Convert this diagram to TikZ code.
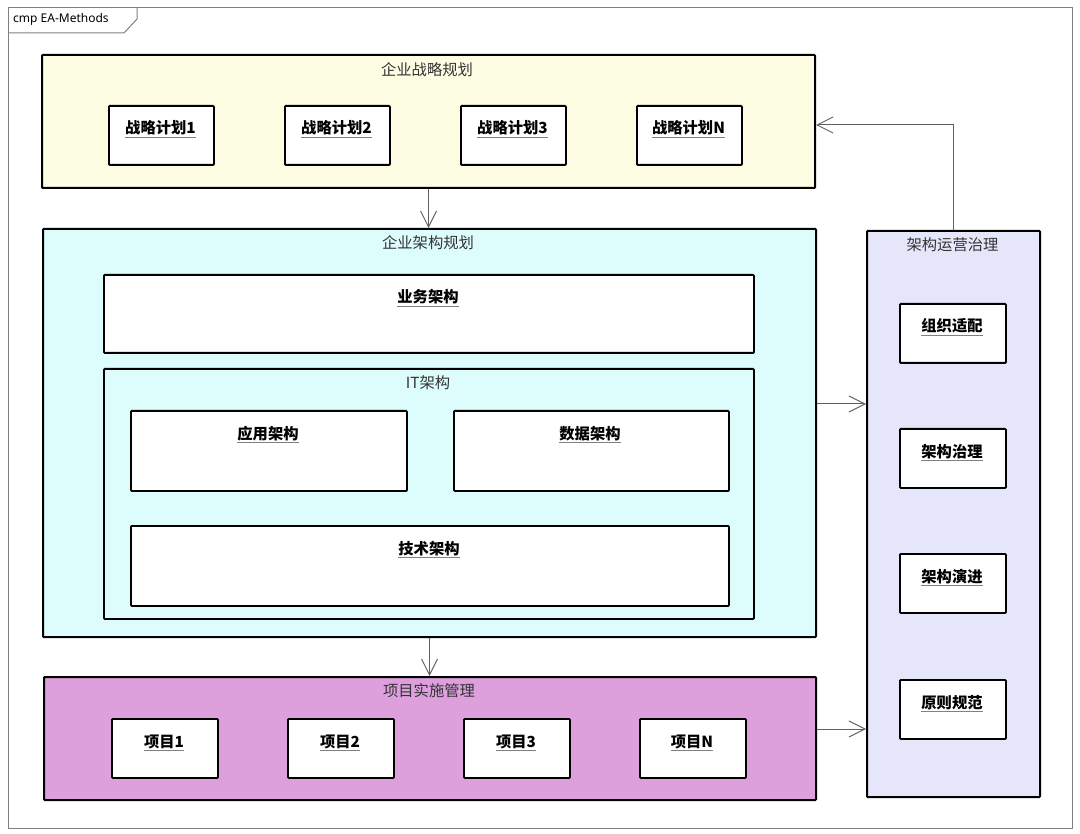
\documentclass[tikz,border=0pt]{standalone}
\usepackage{fontspec}
\setmainfont{Noto Sans CJK SC}
\newfontfamily\tabfont{Noto Sans}
\usetikzlibrary{arrows.meta}
\definecolor{fyellow}{HTML}{FDFDE3}
\definecolor{fcyan}{HTML}{DDFCFC}
\definecolor{fplum}{HTML}{DDA0DD}
\definecolor{flav}{HTML}{E6E6FA}
\definecolor{conncol}{HTML}{606060}
\definecolor{titlecol}{HTML}{333333}
\tikzset{
  container/.style={draw=black,line width=2pt,anchor=north west,inner sep=0pt,rounded corners=0.8pt},
  inbox/.style={draw=black,fill=white,line width=1.8pt,anchor=north west,inner sep=0pt,rounded corners=0.8pt},
  ttl/.style={font=\fontsize{15.3}{17}\selectfont,text=titlecol,inner sep=0pt},
  lbl/.style={font=\fontsize{15.3}{17}\selectfont\bfseries,text=black,inner sep=0pt},
  ul/.style={draw=gray,line width=1pt},
  conn/.style={draw=conncol,line width=1pt,-{Straight Barb[length=16pt,width=16pt,line width=1pt]}},
}
\newcommand{\boxlbl}[3]{% name, position, text
  \node[lbl,anchor=base] (#1) at #2 {#3};
  \draw[ul] ([yshift=-3.5pt]#1.base west) -- ([yshift=-3.5pt]#1.base east);
}
\begin{document}
\begin{tikzpicture}[x=1pt,y=-1pt]
\useasboundingbox (0,0) rectangle (1080,834);
% frame
\draw[draw=gray,line width=1pt] (8,8) rectangle (1072,828);
\draw[draw=gray,line width=1pt] (8,33) -- (124,33) -- (137,19) -- (137,8);
\node[anchor=west,inner sep=0pt,font=\tabfont\fontsize{12}{13}\selectfont,text=black] (tab) at (13,19.5) {cmp EA-Methods};

% strategy
\node[container,fill=fyellow,minimum width=773pt,minimum height=133pt] (strat) at (41,54) {};
\node[ttl] (stratt) at (427,70) {企业战略规划};
\foreach \i/\x/\t in {1/108/战略计划1,2/284/战略计划2,3/460/战略计划3,4/636/战略计划N}{
  \node[inbox,minimum width=105pt,minimum height=59pt] (sp\i) at (\x,105) {};
  \boxlbl{spl\i}{(\x+52.5,134)}{\t}
}

% enterprise architecture
\node[container,fill=fcyan,minimum width=773pt,minimum height=408pt] (ea) at (42,228) {};
\node[ttl] (eat) at (428,243) {企业架构规划};
\node[inbox,minimum width=650pt,minimum height=78pt] (biz) at (103,274) {};
\boxlbl{bizl}{(428,303)}{业务架构}
\node[container,fill=fcyan,line width=1.8pt,minimum width=650pt,minimum height=250pt] (it) at (103,368) {};
\node[ttl] (itt) at (428,383) {IT架构};
\node[inbox,minimum width=276pt,minimum height=80pt] (app) at (130,410) {};
\boxlbl{appl}{(268,439)}{应用架构}
\node[inbox,minimum width=275pt,minimum height=80pt] (data) at (453,410) {};
\boxlbl{datal}{(590,439)}{数据架构}
\node[inbox,minimum width=598pt,minimum height=80pt] (tech) at (130,525) {};
\boxlbl{techl}{(429,554)}{技术架构}

% projects
\node[container,fill=fplum,minimum width=772pt,minimum height=123pt] (proj) at (43,676) {};
\node[ttl] (projt) at (429,691) {项目实施管理};
\foreach \i/\x/\t in {1/111/项目1,2/287/项目2,3/463/项目3,4/639/项目N}{
  \node[inbox,minimum width=106pt,minimum height=59pt] (pj\i) at (\x,718) {};
  \boxlbl{pjl\i}{(\x+53,747)}{\t}
}

% governance
\node[container,fill=flav,minimum width=173pt,minimum height=566pt] (gov) at (866,230) {};
\node[ttl] (govt) at (952.5,245) {架构运营治理};
\foreach \i/\y/\t in {1/303/组织适配,2/428/架构治理,3/553/架构演进,4/679/原则规范}{
  \node[inbox,minimum width=106pt,minimum height=59pt] (g\i) at (899,\y) {};
  \boxlbl{gl\i}{(952,\y+29)}{\t}
}

% connectors
\draw[conn] (strat.south) -- (strat.south |- ea.north);
\draw[conn] (ea.south) -- (ea.south |- proj.north);
\draw[conn] ([yshift=29pt]ea.east) -- ([yshift=29pt]ea.east -| gov.west);
\draw[conn] ([yshift=9.5pt]proj.east) -- ([yshift=9.5pt]proj.east -| gov.west);
\draw[conn] (gov.north) |- ([yshift=-3.5pt]strat.east);
\end{tikzpicture}
\end{document}
